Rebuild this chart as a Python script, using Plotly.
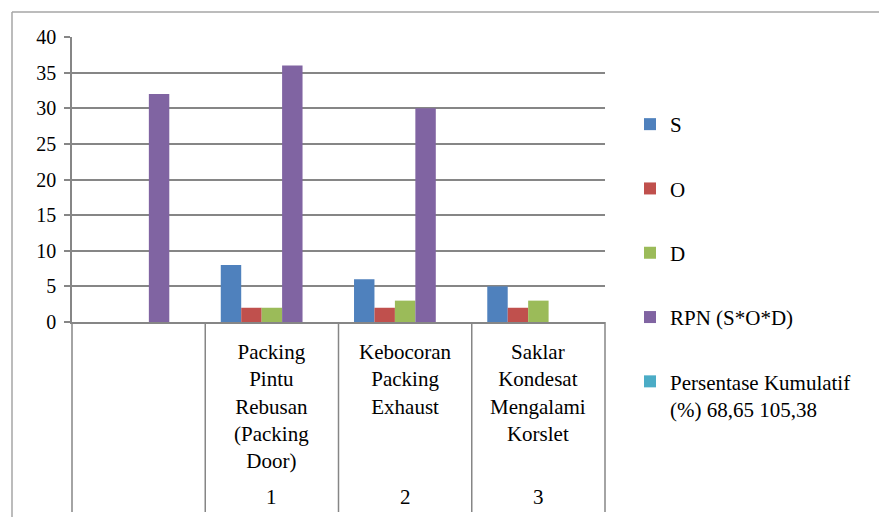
import plotly.graph_objects as go

# ---- data ----
cat_numbers = ["", "1", "2", "3"]
cat_names = ["",
             "Packing<br>Pintu<br>Rebusan<br>(Packing<br>Door)",
             "Kebocoran<br>Packing<br>Exhaust",
             "Saklar<br>Kondesat<br>Mengalami<br>Korslet"]
s_vals = [None, 8, 6, 5]
o_vals = [None, 2, 2, 2]
d_vals = [None, 2, 3, 3]
rpn_vals = [32, 36, 30, None]
pk_vals = [None, None, None, None]

series = [
    ("S", s_vals, "#4F81BD"),
    ("O", o_vals, "#C0504D"),
    ("D", d_vals, "#9BBB59"),
    ("RPN (S*O*D)", rpn_vals, "#8064A2"),
    ("Persentase Kumulatif<br>(%) 68,65 105,38", pk_vals, "#4BACC6"),
]
y_ticks = [0, 5, 10, 15, 20, 25, 30, 35, 40]

W, H = 879, 517
ML, MR, MT, MB = 72, 274, 37, 195
plot_w = W - ML - MR
plot_h = H - MT - MB

def px_x(p):
    return (p - ML) / plot_w

def px_y(p):
    return (H - MB - p) / plot_h

FONT = "Liberation Serif"
GRID = "#868686"
FRAME = "#a6a6a6"

xpos = list(range(len(cat_numbers)))
xmin, xmax = -0.5, len(cat_numbers) - 0.5

fig = go.Figure()
for i, (name, vals, col) in enumerate(series):
    fig.add_trace(go.Bar(
        x=xpos, y=vals, name=name,
        marker=dict(color=col, line=dict(width=0)),
        legendgroup=str(i),
    ))

shapes = []
bottom = px_y(H - 5)
# frame (top and left edges of chart area border)
shapes.append(dict(type="line", xref="paper", yref="paper",
                   x0=px_x(12), x1=px_x(W + 5), y0=px_y(12), y1=px_y(12),
                   line=dict(color=FRAME, width=1.5)))
shapes.append(dict(type="line", xref="paper", yref="paper",
                   x0=px_x(12), x1=px_x(12), y0=px_y(12), y1=px_y(H + 5),
                   line=dict(color=FRAME, width=1.5)))
# category separators below the axis
for k in range(len(cat_numbers) + 1):
    xp = (k - 0.5 - xmin) / (xmax - xmin)
    shapes.append(dict(type="line", xref="paper", yref="paper",
                       x0=xp, x1=xp, y0=0, y1=bottom,
                       line=dict(color=GRID, width=1.5)))

annotations = []
for i, (num, name) in enumerate(zip(cat_numbers, cat_names)):
    if name:
        annotations.append(dict(x=i, xref="x", y=px_y(338), yref="paper",
                                text=name, showarrow=False, yanchor="top",
                                xanchor="center", align="center",
                                font=dict(family=FONT, size=21, color="black")))
    if num:
        annotations.append(dict(x=i, xref="x", y=px_y(497), yref="paper",
                                text=num, showarrow=False, yanchor="middle",
                                xanchor="center",
                                font=dict(family=FONT, size=21, color="black")))

fig.update_layout(
    width=W, height=H,
    margin=dict(l=ML, r=MR, t=MT, b=MB, pad=0),
    paper_bgcolor="white", plot_bgcolor="white",
    barmode="group", bargap=0.233, bargroupgap=0,
    font=dict(family=FONT, size=20, color="black"),
    xaxis=dict(range=[xmin, xmax], showticklabels=False, ticks="",
               showgrid=False, zeroline=False, showline=True,
               linecolor=GRID, linewidth=1.5, fixedrange=True),
    yaxis=dict(range=[0, 40], tickvals=y_ticks, ticks="outside", ticklen=6,
               tickcolor=GRID, tickwidth=1.5, showgrid=True, gridcolor=GRID,
               gridwidth=1.5, zeroline=False, showline=True, linecolor=GRID,
               linewidth=1.5, tickfont=dict(family=FONT, size=20, color="black"),
               ticklabelstandoff=4),
    legend=dict(x=px_x(630), y=px_y(104), xanchor="left", yanchor="top",
                traceorder="grouped", tracegroupgap=34, valign="top",
                maxheight=400,
                font=dict(family=FONT, size=21, color="black"),
                bgcolor="rgba(0,0,0,0)"),
    shapes=shapes,
    annotations=annotations,
)

fig.write_html("out.html")
